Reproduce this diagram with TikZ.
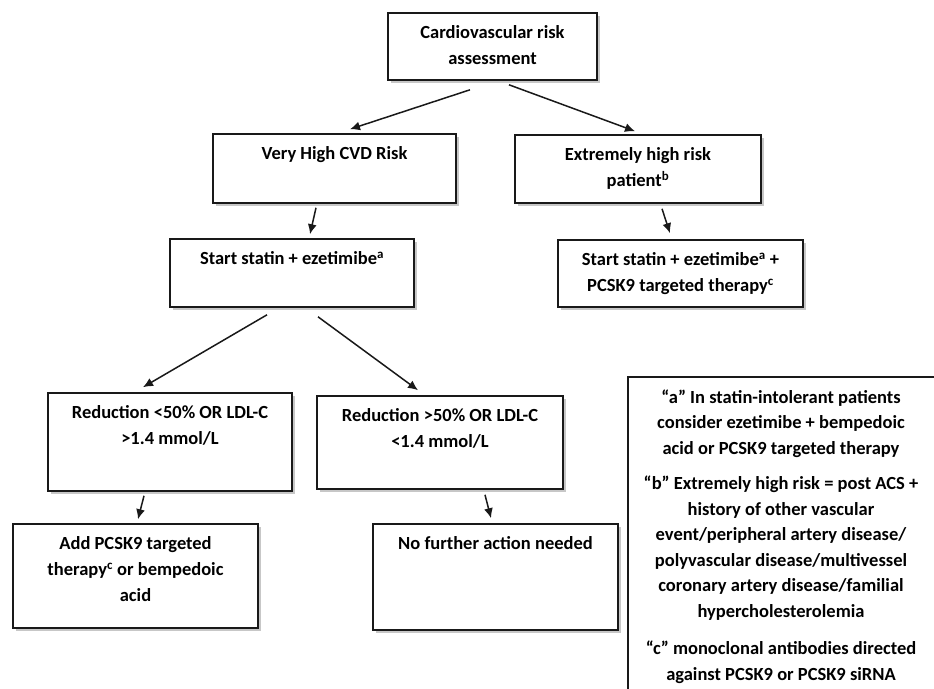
\documentclass[tikz,border=0pt]{standalone}
\usepackage{fontspec}
\setmainfont{Carlito}
\usetikzlibrary{calc,arrows.meta,shadows}
\newcommand\boxtxt[3]{\parbox[c][#2][t]{#1}{\centering\rule{0pt}{25.5pt}#3}}
\begin{document}
\begin{tikzpicture}[x=1pt,y=-1pt,
  flowbox/.style={draw=black!90, line width=1.6pt, fill=white, rectangle, inner sep=0pt,
    drop shadow={shadow xshift=2.5pt, shadow yshift=-2.5pt, opacity=0.22, fill=black},
    font=\fontsize{18.5}{26}\selectfont\bfseries},
  arr/.style={line width=1.5pt, draw=black!90, -{Latex[length=10pt,width=9pt]}}]
\useasboundingbox (0,0) rectangle (934,688);
\fill[white] (0,0) rectangle (934,688);

\node[flowbox, minimum width=209pt, minimum height=67pt] (top) at (492.5,46.5)
  {\boxtxt{200pt}{67pt}{Cardiovascular risk\\assessment}};
\node[flowbox, minimum width=243pt, minimum height=69pt] (vh) at (334.5,168.5)
  {\boxtxt{235pt}{69pt}{Very High CVD Risk}};
\node[flowbox, minimum width=246pt, minimum height=68pt] (ehr) at (638,169)
  {\boxtxt{238pt}{68pt}{Extremely high risk\\patient\textsuperscript{b}}};
\node[flowbox, minimum width=244pt, minimum height=68pt] (st) at (292,273)
  {\boxtxt{236pt}{68pt}{Start statin + ezetimibe\textsuperscript{a}}};
\node[flowbox, minimum width=245pt, minimum height=67pt] (st2) at (680.5,273.5)
  {\boxtxt{237pt}{67pt}{Start statin + ezetimibe\textsuperscript{a} +\\PCSK9 targeted therapy\textsuperscript{c}}};
\node[flowbox, minimum width=244pt, minimum height=98pt] (r1) at (170,442)
  {\boxtxt{236pt}{98pt}{Reduction <50\% OR LDL-C\\>1.4 mmol/L}};
\node[flowbox, minimum width=246pt, minimum height=93pt] (r2) at (440,442.5)
  {\boxtxt{238pt}{93pt}{Reduction >50\% OR LDL-C\\<1.4 mmol/L}};
\node[flowbox, minimum width=245pt, minimum height=104pt] (add) at (135.5,576)
  {\boxtxt{237pt}{104pt}{Add PCSK9 targeted\\therapy\textsuperscript{c} or bempedoic\\acid}};
\node[flowbox, minimum width=245pt, minimum height=106pt] (nf) at (495.5,577)
  {\boxtxt{237pt}{106pt}{No further action needed}};
\node[flowbox, minimum width=318pt, minimum height=323pt, font=\fontsize{18.5}{25.5}\selectfont\bfseries] (notes) at (787,538.5)
  {\hspace*{-12pt}\parbox[c][323pt][t]{310pt}{\centering\rule{0pt}{26pt}“a” In statin-intolerant patients\\
   consider ezetimibe + bempedoic\\
   acid or PCSK9 targeted therapy\\[10pt]
   “b” Extremely high risk = post ACS +\\
   history of other vascular\\
   event/peripheral artery disease/\\
   polyvascular disease/multivessel\\
   coronary artery disease/familial\\
   hypercholesterolemia\\[12pt]
   “c” monoclonal antibodies directed\\
   against PCSK9 or PCSK9 siRNA}};

\draw[arr] ($(top.south)+(-22.5,9)$) -- ($(vh.north)+(15.5,-4)$);
\draw[arr] ($(top.south)+(16.5,4)$) -- ($(ehr.north)+(-3,-3)$);
\draw[arr] ($(vh.south)+(-18.5,4)$) -- ($(st.north)+(18,-4)$);
\draw[arr] ($(ehr.south)+(24,5)$) -- ($(st2.north)+(-10.5,-6)$);
\draw[arr] ($(st.south)+(-25,7)$) -- ($(r1.north)+(-27,-5)$);
\draw[arr] ($(st.south)+(26,9)$) -- ($(r2.north)+(-22,-5)$);
\draw[arr] ($(r1.south)+(-26,4)$) -- ($(add.north)+(2.5,-4)$);
\draw[arr] ($(r2.south)+(45,5)$) -- ($(nf.north)+(-4.5,-5)$);
\end{tikzpicture}
\end{document}
